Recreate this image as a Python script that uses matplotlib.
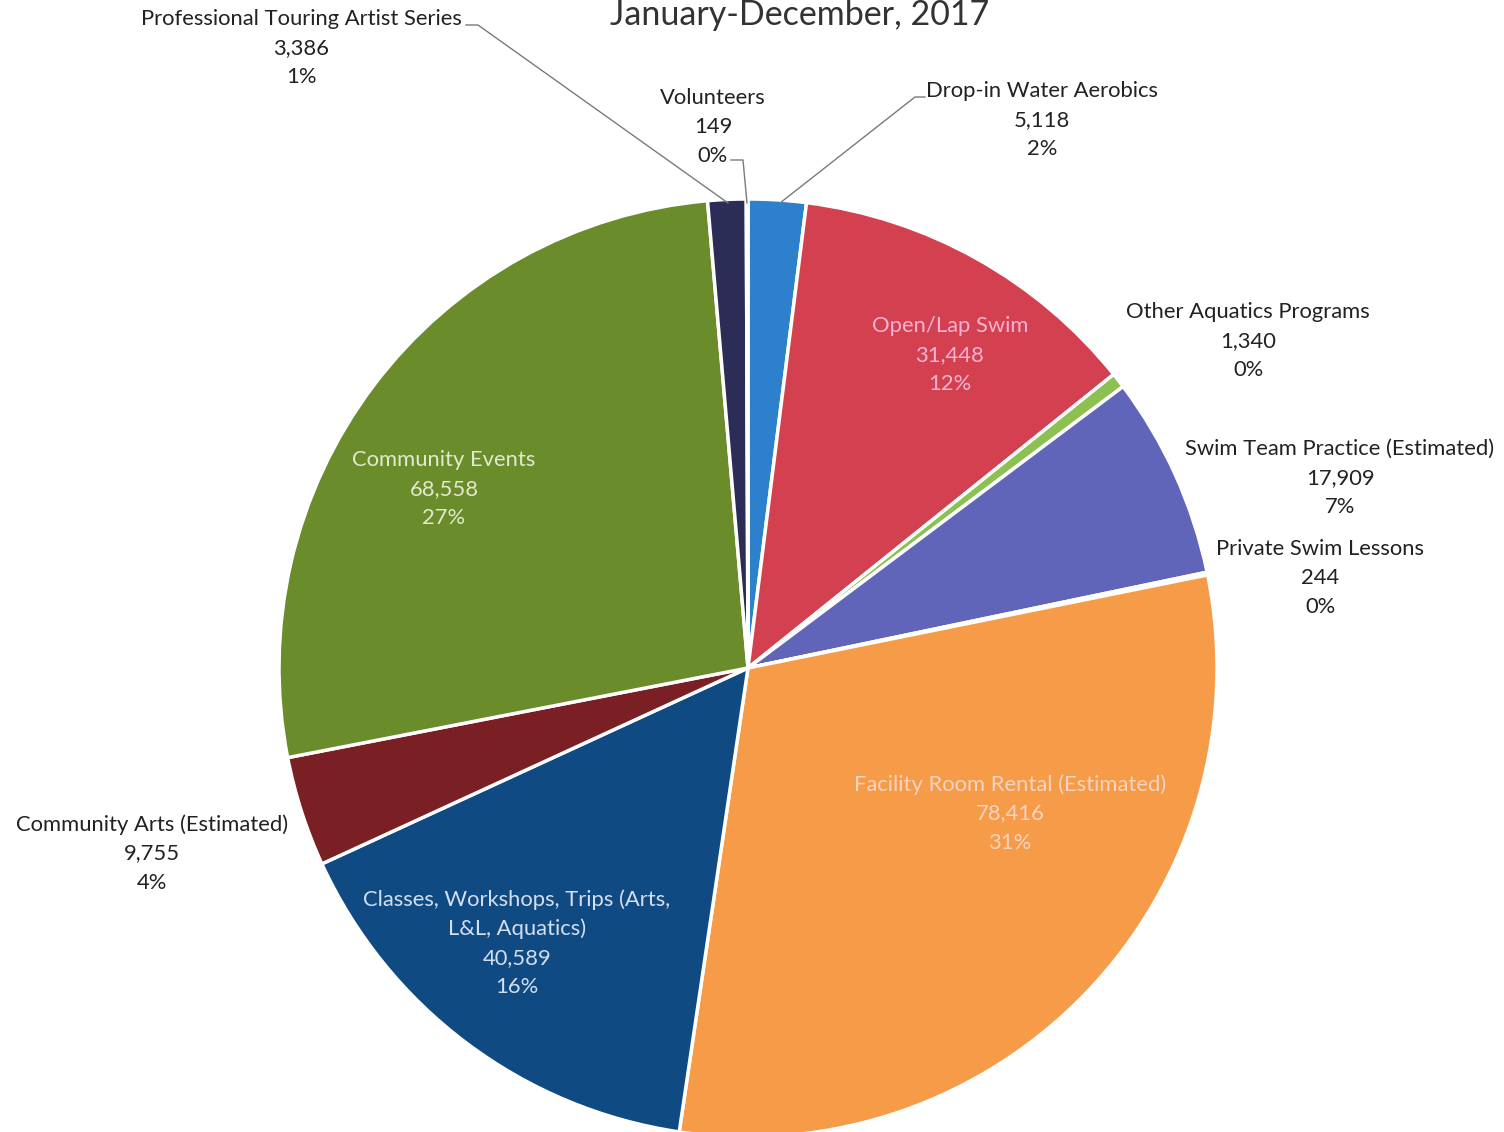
import matplotlib.pyplot as plt

plt.rcParams['font.family'] = ['Lato', 'DejaVu Sans']

# attendance by program, Jan-Dec 2017 (clockwise from 12 o'clock)
programs = ['Drop-in Water Aerobics', 'Open/Lap Swim', 'Other Aquatics Programs',
            'Swim Team Practice (Estimated)', 'Private Swim Lessons',
            'Facility Room Rental (Estimated)',
            'Classes, Workshops, Trips (Arts,\nL&L, Aquatics)',
            'Community Arts (Estimated)', 'Community Events',
            'Professional Touring Artist Series', 'Volunteers']
attendance = [5118, 31448, 1340, 17909, 244, 78416, 40589, 9755, 68558, 3386, 149]
percents = [2, 12, 0, 7, 0, 31, 16, 4, 27, 1, 0]
colors = ['#2c80cc', '#d3404f', '#8cc152', '#6165b9', '#3fb6d6', '#f69b47',
          '#0f4a82', '#7a1f24', '#6b8c2a', '#2b2d57', '#8aa0c8']

W, H = 1504, 1132
fig = plt.figure(figsize=(W / 100, H / 100), dpi=100)
ax = fig.add_axes([0, 0, 1, 1])

cx, cy, r = 748, H - 668, 469
ax.pie(attendance, colors=colors, startangle=90, counterclock=False,
       center=(cx, cy), radius=r, frame=True,
       wedgeprops=dict(edgecolor='white', linewidth=2.5))
ax.set_xlim(0, W)
ax.set_ylim(0, H)
ax.set_aspect('equal')
ax.axis('off')


def label(i):
    return f'{programs[i]}\n{attendance[i]:,}\n{percents[i]}%'


# (x, y of first line centre, text colour) in pixel coords from the top
positions = {
    0: (1042, 90, '#222222'),
    1: (950, 325, '#f4b3d2'),
    2: (1248, 311, '#222222'),
    3: (1340, 448, '#222222'),
    4: (1320, 548, '#222222'),
    5: (1010, 783, '#f7d3c3'),
    6: (517, 898, '#d3def0'),
    7: (152, 823, '#222222'),
    8: (444, 459, '#e3e9cf'),
    9: (301, 18, '#222222'),
    10: (713, 97, '#222222'),
}
for i, (x, y, c) in positions.items():
    ax.text(x, H - y + 9, label(i), ha='center', va='top', fontsize=15.8,
            color=c, linespacing=1.56)

# leader lines for the thin slices at the top
lc = dict(color='#7a7a7a', lw=1.0)
ax.plot([466, 478, 728], [H - 25, H - 25, H - 203], **lc)
ax.plot([731, 743, 747], [H - 160, H - 160, H - 203], **lc)
ax.plot([925, 915, 780], [H - 97, H - 97, H - 203], **lc)

ax.text(800, H - 15, 'January-December, 2017', ha='center', va='center',
        fontsize=24.5, color='#333333')

fig.savefig('out.png', dpi=100)
